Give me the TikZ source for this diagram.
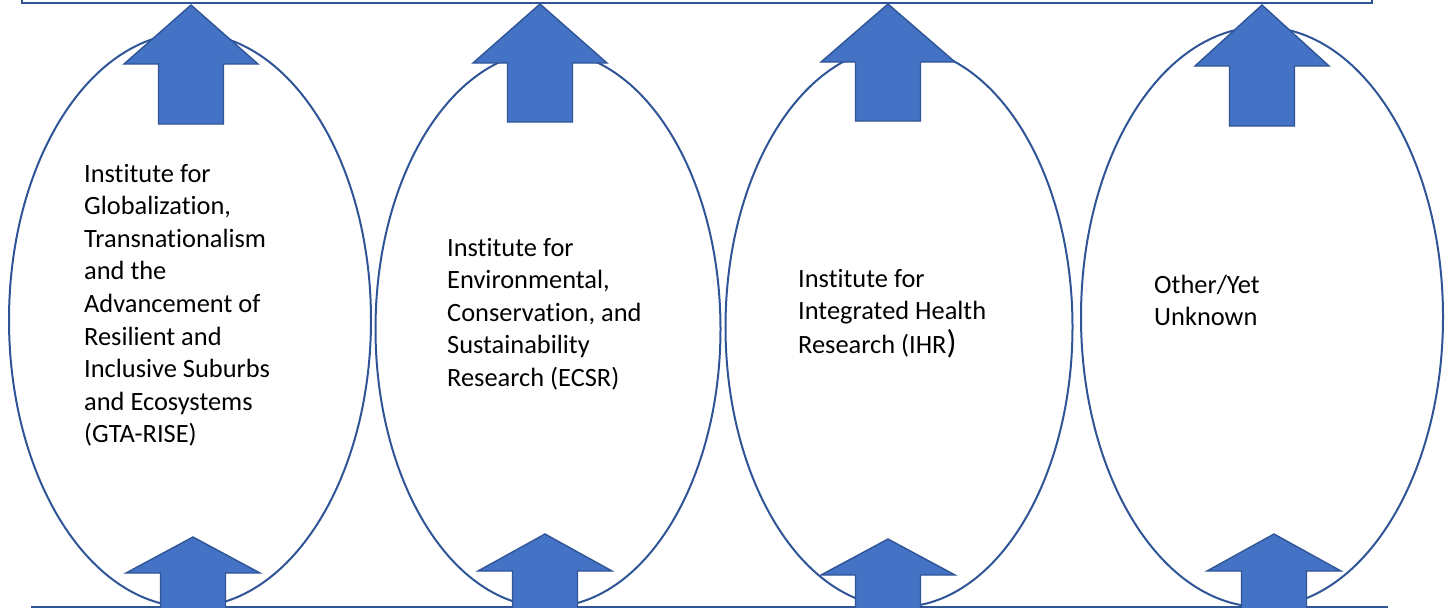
\documentclass[tikz,border=0pt]{standalone}
\usepackage{fontspec}
\setmainfont{Carlito}[Ligatures={NoCommon}]
\usetikzlibrary{shapes.geometric}
\definecolor{edgeblue}{HTML}{2F5597}
\definecolor{fillblue}{HTML}{4472C4}
\tikzset{
  oval/.style={ellipse, draw=edgeblue, line width=2pt, inner sep=0pt},
  blurb/.style={anchor=base west, inner sep=0pt, text=black,
                font=\fontsize{26.4}{32.6}\selectfont},
  rule/.style={draw=edgeblue, line width=2.4pt},
  % block arrow pointing up: tip at the origin, head length #1, total length #2
  pics/uparrow/.style args={#1/#2}{code={
    \filldraw[fill=fillblue, draw=edgeblue, line width=1.4pt, line join=miter]
      (0,0) -- (67,#1) -- (32.5,#1) -- (32.5,#2) -- (-32.5,#2)
      -- (-32.5,#1) -- (-67,#1) -- cycle;
  }},
}
\begin{document}
\begin{tikzpicture}[x=1pt, y=-1pt]
\useasboundingbox (0,0) rectangle (1452,608);
\clip (0,0) rectangle (1452,608);

% top bar and base line
\node[rule, rectangle, anchor=south west, inner sep=0pt,
      minimum width=1350pt, minimum height=40pt] (topbar) at (21,4) {};
\coordinate (baseL) at (31,607);
\coordinate (baseR) at (1388,607);
\draw[rule] (baseL) -- (baseR);

% the four institutes
\node[oval, minimum width=362pt, minimum height=574pt] (e1) at (190,320) {};
\node[oval, minimum width=345pt, minimum height=556pt] (e2) at (548,329) {};
\node[oval, minimum width=347pt, minimum height=560pt] (e3) at (899,327) {};
\node[oval, minimum width=362pt, minimum height=580pt] (e4) at (1262,317) {};

\node[blurb] (t1) at (84,182) {\begin{tabular}[t]{@{}l@{}}
Institute for\\ Globalization,\\ Transnationalism\\ and the\\
Advancement of\\ Resilient and\\ Inclusive Suburbs\\ and Ecosystems\\
(GTA-RISE)\end{tabular}};
\node[blurb] (t2) at (447,256) {\begin{tabular}[t]{@{}l@{}}
Institute for\\ Environmental,\\ Conservation, and\\ Sustainability\\
Research (ECSR)\end{tabular}};
\node[blurb] (t3) at (798,287) {\begin{tabular}[t]{@{}l@{}}
Institute for\\ Integrated Health\\
Research (IHR{\fontsize{33}{33}\selectfont )}\end{tabular}};
\node[blurb] (t4) at (1154,293) {\begin{tabular}[t]{@{}l@{}}
Other/Yet\\ Unknown\end{tabular}};

% arrows feeding up into the top bar
\pic at (191,5) {uparrow=59/119};
\pic at (540,4) {uparrow=59/118};
\pic at (888,4) {uparrow=58/117};
\pic at (1262,5) {uparrow=61/121};

% arrows rising from the base line
\pic at (193,537) {uparrow=36/90};
\pic at (545,534) {uparrow=37/90};
\pic at (888,539) {uparrow=36/90};
\pic at (1274,534) {uparrow=37/90};
\end{tikzpicture}
\end{document}
